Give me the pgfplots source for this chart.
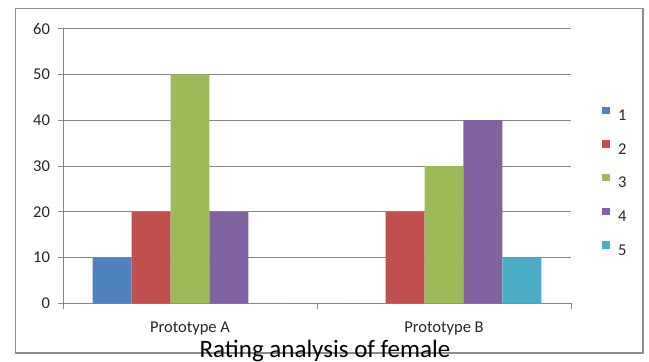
\documentclass[border=0pt]{standalone}
\usepackage{pgfplots}
\pgfplotsset{compat=1.18}
\usepackage{fontspec}
\setmainfont{Carlito}

\definecolor{c1}{HTML}{4F81BD}
\definecolor{c2}{HTML}{C0504D}
\definecolor{c3}{HTML}{9BBB59}
\definecolor{c4}{HTML}{8064A2}
\definecolor{c5}{HTML}{4BACC6}
\definecolor{axgray}{HTML}{878787}
\definecolor{framegray}{HTML}{8C8C8C}

\begin{document}
\begin{tikzpicture}
\path[use as bounding box] (0,0) rectangle (649pt,362pt);
% chart frame
\draw[framegray, line width=1.2pt] (15.5pt,9pt) rectangle (643pt,353.5pt);
\begin{axis}[
  at={(63pt,58.7pt)}, anchor=south west,
  scale only axis, width=508pt, height=274.6pt,
  xmin=-0.5, xmax=1.5, ymin=0, ymax=60,
  ytick={0,10,...,60},
  xtick={0,1}, xticklabels={Prototype A, Prototype B},
  major x tick style={draw=none},
  minor xtick={-0.5,0.5,1.5},
  minor tick length=6pt,
  major tick length=5pt,
  tick align=outside,
  tick style={axgray, line width=0.8pt},
  ymajorgrids,
  grid style={axgray, line width=0.8pt},
  axis x line*=bottom, axis y line*=left,
  axis line style={axgray, line width=0.8pt, -},
  ybar, bar width=38.9pt,
  /pgf/number format/assume math mode=true,
  tick label style={font=\fontsize{16.5}{19}\selectfont, text=black!85},
  yticklabel style={xshift=-4.5pt},
  xticklabel style={yshift=-10pt},
  legend style={draw=none, fill=none, at={(1.061,0.717)}, anchor=north west,
    font=\fontsize{16.5}{19}\selectfont, row sep=17.3pt, inner sep=0pt,
    nodes={inner sep=1pt, text=black!85}},
  legend cell align=left,
  legend image code/.code={\fill[#1] (0pt,1.8pt) rectangle (7.5pt,9.3pt); \path (15pt,0pt);},
]
\addplot[fill=c1, draw=none, bar shift=-77.8pt] coordinates {(0,10) (1,0)};
\addplot[fill=c2, draw=none, bar shift=-38.9pt] coordinates {(0,20) (1,20)};
\addplot[fill=c3, draw=none, bar shift=0pt] coordinates {(0,50) (1,30)};
\addplot[fill=c4, draw=none, bar shift=38.9pt] coordinates {(0,20) (1,40)};
\addplot[fill=c5, draw=none, bar shift=77.8pt] coordinates {(0,0) (1,10)};
\legend{1,2,3,4,5}
\end{axis}
\node[anchor=base, font=\fontsize{25}{29}\selectfont] at (325pt,5pt) {Rating analysis of female};
\end{tikzpicture}
\end{document}
